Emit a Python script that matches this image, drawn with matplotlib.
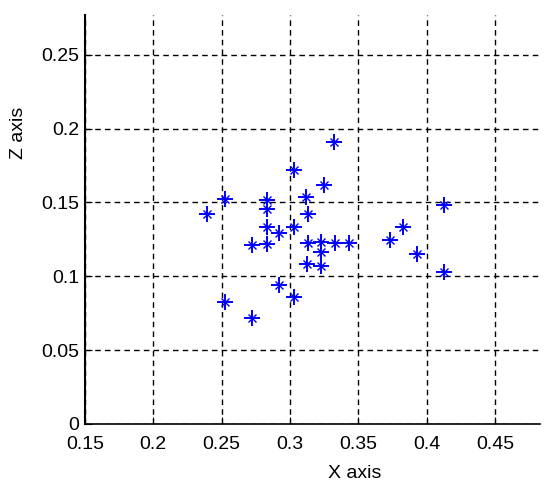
import matplotlib
matplotlib.use("Agg")
import matplotlib.pyplot as plt

x_vals = [0.332, 0.303, 0.325, 0.2525, 0.283, 0.312, 0.239, 0.283, 0.313, 0.283,
          0.292, 0.303, 0.272, 0.283, 0.3135, 0.323, 0.333, 0.343, 0.323, 0.3127,
          0.323, 0.292, 0.303, 0.2525, 0.272, 0.413, 0.383, 0.373, 0.393, 0.413]
z_vals = [0.191, 0.172, 0.1616, 0.1526, 0.152, 0.1535, 0.142, 0.1456, 0.142, 0.1334,
          0.1293, 0.1334, 0.121, 0.122, 0.1225, 0.1232, 0.1225, 0.1225, 0.1162, 0.1085,
          0.1073, 0.0942, 0.0863, 0.0829, 0.0716, 0.1484, 0.1331, 0.1247, 0.1152, 0.1026]

x_ticks = [0.15, 0.2, 0.25, 0.3, 0.35, 0.4, 0.45]
x_labels = ["0.15", "0.2", "0.25", "0.3", "0.35", "0.4", "0.45"]
z_ticks = [0, 0.05, 0.1, 0.15, 0.2, 0.25]
z_labels = ["0", "0.05", "0.1", "0.15", "0.2", "0.25"]

plt.rcParams['font.family'] = ['Liberation Sans', 'DejaVu Sans']

fig = plt.figure(figsize=(5.5, 4.91), dpi=100)
ax = fig.add_axes([0.1545, 0.1365, 0.8273, 0.833])

ax.plot(x_vals, z_vals, linestyle='none', marker='+', markersize=11,
        markeredgewidth=1.4, color='#0000FF', zorder=3)
ax.plot(x_vals, z_vals, linestyle='none', marker='x', markersize=6,
        markeredgewidth=1.0, color='#0000FF', zorder=3)

ax.set_xlim(0.15, 0.483)
ax.set_ylim(0, 0.277)
ax.set_xticks(x_ticks)
ax.set_xticklabels(x_labels)
ax.set_yticks(z_ticks)
ax.set_yticklabels(z_labels)

ax.grid(True, color='black', linestyle=(0, (4, 3)), linewidth=1.0)
ax.set_axisbelow(True)
ax.spines['top'].set_visible(False)
ax.spines['right'].set_visible(False)
ax.spines['left'].set_linewidth(1.5)
ax.spines['bottom'].set_linewidth(1.2)
ax.tick_params(direction='in', length=5, labelsize=14, colors='black')
ax.tick_params(axis='x', pad=9)
ax.tick_params(axis='y', pad=4)

ax.set_xlabel('X axis', fontsize=14)
ax.xaxis.set_label_coords(0.593, -0.10)
ax.set_ylabel('Z axis', fontsize=14)
ax.yaxis.set_label_coords(-0.128, 0.711)

fig.savefig('out.png', dpi=100)
